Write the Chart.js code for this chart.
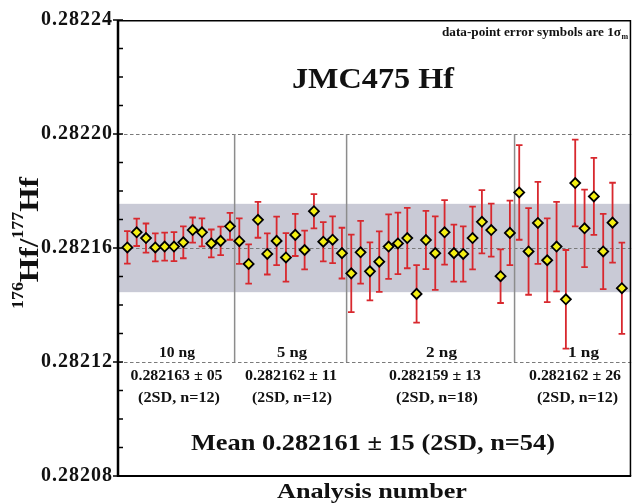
<!DOCTYPE html>
<html><head><meta charset="utf-8">
<script src="https://cdn.jsdelivr.net/npm/chart.js@4/dist/chart.umd.min.js"></script>
<style>html,body{margin:0;padding:0;background:#fff;overflow:hidden}#wrap{width:638px;height:503px}</style>
</head><body><div id="wrap"><canvas id="c" width="638" height="503"></canvas></div>
<script>
// ---- data ----
const analysisNumber = [1,2,3,4,5,6,7,8,9,10,11,12,13,14,15,16,17,18,19,20,21,22,23,24,25,26,27,
  28,29,30,31,32,33,34,35,36,37,38,39,40,41,42,43,44,45,46,47,48,49,50,51,52,53,54];
const hfRatio = [
  0.2821602,0.2821655,0.2821635,0.2821602,0.2821605,0.2821605,0.2821620,0.2821663,0.2821655,0.2821616,0.2821625,0.2821676,
  0.2821624,0.2821544,0.2821699,0.2821579,0.2821625,0.2821567,0.2821646,0.2821593,0.2821729,0.2821622,0.2821629,0.2821582,
  0.2821511,0.2821585,0.2821518,0.2821552,0.2821605,0.2821616,0.2821635,0.2821439,0.2821628,0.2821582,0.2821655,0.2821582,
  0.2821579,0.2821635,0.2821692,0.2821663,0.2821501,0.2821653,
  0.2821795,0.2821588,0.2821688,0.2821557,0.2821605,0.2821420,0.2821828,0.2821669,0.2821781,0.2821588,0.2821689,0.2821459];
const sigma1 = [ // 1 sigma, units of 1e-6
  5.7,4.8,5.1,4.9,4.9,5.1,5.6,4.4,4.9,4.9,5.0,4.7,
  8.0,6.9,6.3,7.2,8.5,8.5,7.4,6.8,6.0,6.9,8.2,8.9,
  13.6,11.0,10.2,10.6,11.3,10.8,10.6,10.1,10.2,12.9,11.3,10.0,9.7,11.0,11.1,9.3,9.4,11.3,
  16.6,15.2,14.4,14.7,15.7,17.3,15.2,13.6,13.5,13.2,14.0,16.0];
const yTickValues = [0.28208,0.28212,0.28216,0.28220,0.28224];
const dashedGridValues = [0.28212,0.28216,0.28220];
const groupNames = ['10 ng','5 ng','2 ng','1 ng'];
const groupMeans = ['0.282163 ± 05','0.282162 ± 11','0.282159 ± 13','0.282162 ± 26'];
const groupCounts = ['(2SD, n=12)','(2SD, n=12)','(2SD, n=18)','(2SD, n=12)'];
const groupDividers = [12.5, 24.5, 42.5];
const meanBand = [0.2821445, 0.2821755];
const titleText = 'JMC475 Hf';
const meanText = 'Mean 0.282161 ± 15 (2SD, n=54)';
const xTitle = 'Analysis number';
const noteText = 'data-point error symbols are 1σ';

const SERIF = '"Liberation Serif","Times New Roman",serif';

function fitText(ctx, str, x, y, size, width, align) {
  ctx.save();
  ctx.letterSpacing = '0px';
  ctx.font = 'bold ' + size + 'px ' + SERIF;
  const w = ctx.measureText(str).width;
  const s = width / w;
  ctx.translate(x, y);
  ctx.scale(s, 1);
  ctx.textAlign = align || 'center';
  ctx.textBaseline = 'alphabetic';
  ctx.fillStyle = '#111';
  ctx.fillText(str, 0, 0);
  ctx.restore();
}

const decor = {
  id: 'decor',
  beforeDraw(chart) { chart.ctx.letterSpacing = '1px'; },
  beforeDatasetsDraw(chart) {
    const ctx = chart.ctx, a = chart.chartArea, xs = chart.scales.x, ys = chart.scales.y;
    ctx.save();
    ctx.letterSpacing = '0px';
    // mean band
    const yb1 = ys.getPixelForValue(meanBand[1]), yb0 = ys.getPixelForValue(meanBand[0]);
    ctx.fillStyle = 'rgb(201,202,214)';
    ctx.fillRect(a.left, yb1, a.right - a.left, yb0 - yb1);
    // dashed grid
    ctx.strokeStyle = '#7a7a7a';
    ctx.lineWidth = 1.2;
    ctx.setLineDash([3.5, 2.5]);
    dashedGridValues.forEach(v => {
      const y = Math.round(ys.getPixelForValue(v)) + 0.5;
      ctx.beginPath(); ctx.moveTo(a.left, y); ctx.lineTo(a.right, y); ctx.stroke();
    });
    ctx.setLineDash([]);
    // group dividers
    ctx.strokeStyle = '#8c8c8c';
    ctx.lineWidth = 1.5;
    groupDividers.forEach(d => {
      const x = xs.getPixelForValue(d);
      ctx.beginPath();
      ctx.moveTo(x, ys.getPixelForValue(0.28220));
      ctx.lineTo(x, ys.getPixelForValue(0.28212));
      ctx.stroke();
    });
    // error bars
    ctx.strokeStyle = '#d8282e';
    ctx.lineWidth = 1.8;
    analysisNumber.forEach((n, i) => {
      const x = xs.getPixelForValue(n);
      const yt = ys.getPixelForValue(hfRatio[i] + sigma1[i] * 1e-6);
      const yl = ys.getPixelForValue(hfRatio[i] - sigma1[i] * 1e-6);
      ctx.beginPath();
      ctx.moveTo(x, yt); ctx.lineTo(x, yl);
      ctx.moveTo(x - 3.3, yt); ctx.lineTo(x + 3.3, yt);
      ctx.moveTo(x - 3.3, yl); ctx.lineTo(x + 3.3, yl);
      ctx.stroke();
    });
    ctx.restore();
  },
  afterDraw(chart) {
    const ctx = chart.ctx, a = chart.chartArea, xs = chart.scales.x, ys = chart.scales.y;
    ctx.save();
    ctx.letterSpacing = '0px';
    ctx.strokeStyle = '#000';
    // frame
    ctx.lineWidth = 1.5;
    ctx.beginPath();
    ctx.moveTo(a.left, a.top + 0.75); ctx.lineTo(a.right - 0.75, a.top + 0.75); ctx.lineTo(a.right - 0.75, a.bottom);
    ctx.stroke();
    ctx.lineWidth = 2.5;
    ctx.beginPath(); ctx.moveTo(a.left, a.top); ctx.lineTo(a.left, a.bottom + 1); ctx.stroke();
    ctx.lineWidth = 2;
    ctx.beginPath(); ctx.moveTo(a.left - 1, a.bottom); ctx.lineTo(a.right, a.bottom); ctx.stroke();
    // y ticks (major outside+inside, minor inside)
    ctx.lineWidth = 1.5;
    const step = (yTickValues[1] - yTickValues[0]) / 4;
    for (let k = 0; k <= 16; k++) {
      const v = yTickValues[0] + k * step;
      const y = ys.getPixelForValue(v);
      ctx.beginPath();
      if (k % 4 === 0) { ctx.moveTo(a.left - 5, y); ctx.lineTo(a.left + 5, y); }
      else { ctx.moveTo(a.left, y); ctx.lineTo(a.left + 5, y); }
      ctx.stroke();
    }
    ctx.restore();

    // texts
    fitText(ctx, titleText, 373, 88, 30, 162, 'center');
    // note at top right
    fitText(ctx, noteText, 621, 36, 13, 179, 'right');
    ctx.save();
    ctx.font = 'bold 8px ' + SERIF; ctx.fillStyle = '#111'; ctx.textAlign = 'left';
    ctx.fillText('m', 621.5, 39);
    ctx.restore();
    // group labels
    const nameX = [177, 292, 441.5, 583.5], nameW = [36, 30, 31, 31];
    const meanX = [176.5, 291, 435, 575], countX = [179, 292, 437, 577.5], countW = [82, 80, 82, 81];
    groupNames.forEach((g, i) => {
      fitText(ctx, g, nameX[i], 357, 14, nameW[i], 'center');
      fitText(ctx, groupMeans[i], meanX[i], 380, 14, 92, 'center');
      fitText(ctx, groupCounts[i], countX[i], 402, 14, countW[i], 'center');
    });
    fitText(ctx, meanText, 373, 450, 24, 364, 'center');
    fitText(ctx, xTitle, 372, 498, 22, 190, 'center');

    // rotated y title
    ctx.save();
    ctx.letterSpacing = '0px';
    ctx.translate(38, 243);
    ctx.rotate(-Math.PI / 2);
    const segs = [['176', 16, -15], ['Hf/', 28, 0], ['177', 16, -15], ['Hf', 28, 0]];
    let W = 0;
    segs.forEach(s => { ctx.font = 'bold ' + s[1] + 'px ' + SERIF; s.push(ctx.measureText(s[0]).width); W += s[3]; });
    const L = 132, sc = L / W;
    ctx.scale(sc, 1);
    let x = -W / 2;
    ctx.fillStyle = '#111'; ctx.textAlign = 'left'; ctx.textBaseline = 'alphabetic';
    segs.forEach(s => { ctx.font = 'bold ' + s[1] + 'px ' + SERIF; ctx.fillText(s[0], x, s[2]); x += s[3]; });
    ctx.restore();
  }
};

new Chart(document.getElementById('c'), {
  type: 'scatter',
  data: {
    datasets: [{
      data: analysisNumber.map((n, i) => ({ x: n, y: hfRatio[i] })),
      pointStyle: 'rectRot',
      pointRadius: 5,
      backgroundColor: '#f4ef12',
      borderColor: '#000',
      borderWidth: 1.8,
      showLine: false
    }]
  },
  options: {
    responsive: false,
    devicePixelRatio: 1,
    animation: false,
    layout: { padding: { top: 20, right: 1, bottom: 27, left: 0 } },
    plugins: { legend: { display: false }, tooltip: { enabled: false } },
    scales: {
      x: { type: 'linear', min: 0, max: 55, display: false },
      y: {
        type: 'linear', min: 0.28208, max: 0.28224,
        afterBuildTicks: s => { s.ticks = yTickValues.map(v => ({ value: v })); },
        afterFit: s => { s.width = 118; },
        ticks: {
          callback: v => Number(v).toFixed(5),
          font: { family: SERIF, size: 20, weight: 'bold' },
          color: '#111',
          padding: 5
        },
        grid: { display: false, drawTicks: false },
        border: { display: false }
      }
    }
  },
  plugins: [decor]
});
</script>
</body></html>
